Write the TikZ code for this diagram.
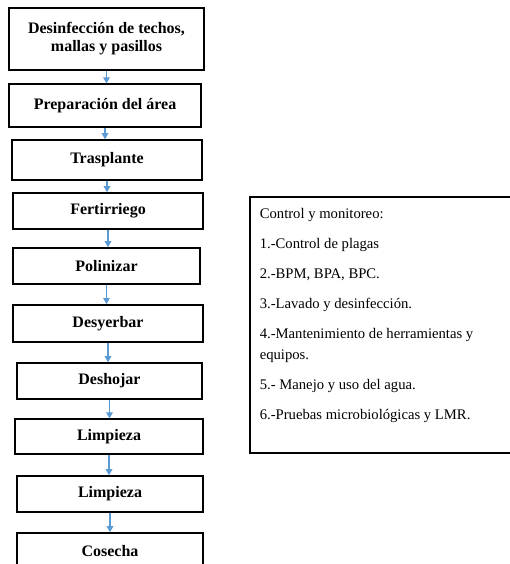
\documentclass[tikz,border=0pt]{standalone}
\usepackage{fontspec}
\setmainfont{Liberation Serif}
\usepackage{tikz}
\usetikzlibrary{
    arrows.meta,
    positioning,
    calc
}
\definecolor{flowblue}{RGB}{91,155,213}
\tikzstyle{stage} = [
    rectangle,
    draw=black,
    line width=1.2pt,
    fill=white,
    minimum width=142.5pt,
    minimum height=27pt,
    align=center,
    font=\fontsize{12pt}{13.5pt}\selectfont\bfseries
]
\tikzstyle{panel} = [
    rectangle,
    draw=black,
    line width=1.2pt,
    anchor=north west,
    inner xsep=7.5pt,
    inner ysep=8.5pt,
    font=\fontsize{11pt}{15.9pt}\selectfont
]
\tikzstyle{arrow} = [
    -{Triangle[length=4.5pt,width=5pt]},
    line width=0.8pt,
    draw=flowblue,
    fill=flowblue
]

\begin{document}
\begin{tikzpicture}[x=0.75pt, y=-0.75pt]
    \useasboundingbox (0,0) rectangle (510,564);
    \clip (0,0) rectangle (510,564);

    % Main flow
    \node[stage, minimum width=146pt, minimum height=46.5pt] (desinf) at (106.5,39) {Desinfección de techos,\\mallas y pasillos};
    \node[stage, minimum width=144pt, minimum height=32pt] (prep) at (105,105.5) {Preparación del área};
    \node[stage, minimum height=30pt] (traspl) at (107,160) {Trasplante};
    \node[stage] (fert) at (108,211) {Fertirriego};
    \node[stage, minimum width=140pt] (polin) at (106.5,266) {Polinizar};
    \node[stage, minimum height=28pt] (desyer) at (108,323.5) {Desyerbar};
    \node[stage, minimum width=139pt] (deshoj) at (109.5,381) {Deshojar};
    \node[stage, minimum width=141pt, minimum height=26pt] (limp1) at (109,436.5) {Limpieza};
    \node[stage, minimum width=139.5pt] (limp2) at (110,494) {Limpieza};
    \node[stage, minimum width=139.5pt] (cosecha) at (110,551) {Cosecha};

    \draw[arrow] (desinf.south) -- (desinf.south |- prep.north);
    \draw[arrow] (prep.south) -- (prep.south |- traspl.north);
    \draw[arrow] (traspl.south) -- (traspl.south |- fert.north);
    \draw[arrow] (fert.south) -- (fert.south |- polin.north);
    \draw[arrow] (polin.south) -- (polin.south |- desyer.north);
    \draw[arrow] (desyer.south) -- (desyer.south |- deshoj.north);
    \draw[arrow] (deshoj.south) -- (deshoj.south |- limp1.north);
    \draw[arrow] (limp1.south) -- (limp1.south |- limp2.north);
    \draw[arrow] (limp2.south) -- (limp2.south |- cosecha.north);

    % Control panel
    \node[panel] (control) at (249,196) {\parbox[t][175pt][t]{200pt}{%
        Control y monitoreo:\\[6.6pt]
        1.-Control de plagas\\[6.6pt]
        2.-BPM, BPA, BPC.\\[6.6pt]
        3.-Lavado y desinfección.\\[6.6pt]
        4.-Mantenimiento de herramientas y\\
        equipos.\\[6.6pt]
        5.- Manejo y uso del agua.\\[6.6pt]
        6.-Pruebas microbiológicas y LMR.}};
\end{tikzpicture}
\end{document}
